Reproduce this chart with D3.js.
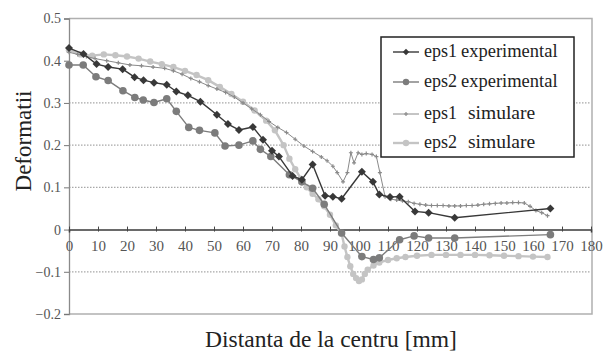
<!DOCTYPE html>
<html>
<head>
<meta charset="utf-8">
<script src="https://cdn.jsdelivr.net/npm/d3@7"></script>
<style>
  html, body { margin: 0; padding: 0; background: #fff; }
  svg { display: block; }
  svg text { font-family: "Liberation Serif", "Times New Roman", serif !important; }
</style>
</head>
<body>
<svg id="chart" width="606" height="353"></svg>
<script>
// Distance from the centre [mm] and measured / simulated strains
const eps1ExpX = [0, 5, 9.5, 13.5, 18.5, 22.6, 25.7, 29.3, 33.7, 37, 41, 45.3, 51, 54.8, 58.6, 63.4, 66.9, 70, 72.4, 77.1, 80.3, 84, 88.3, 91, 94, 101, 104.8, 107, 110.7, 114, 119.3, 124, 133, 166];
const eps1ExpY = [0.43, 0.416, 0.392, 0.385, 0.38, 0.361, 0.354, 0.348, 0.343, 0.327, 0.318, 0.303, 0.272, 0.25, 0.236, 0.243, 0.213, 0.187, 0.173, 0.127, 0.118, 0.154, 0.08, 0.078, 0.073, 0.137, 0.113, 0.083, 0.077, 0.078, 0.043, 0.04, 0.028, 0.05];

const eps2ExpX = [0, 4.9, 9.3, 13.5, 18.6, 22.7, 25.6, 29.3, 33.7, 37, 41.3, 45, 50.3, 53.8, 58.6, 63.4, 66, 69.6, 76, 80.3, 84, 88, 94, 101, 105, 107, 114, 119, 124, 133, 166];
const eps2ExpY = [0.39, 0.39, 0.362, 0.353, 0.329, 0.313, 0.307, 0.301, 0.31, 0.28, 0.242, 0.235, 0.229, 0.198, 0.2, 0.21, 0.19, 0.173, 0.13, 0.113, 0.098, 0.06, -0.008, -0.064, -0.071, -0.067, -0.024, -0.015, -0.02, -0.02, -0.012];

const eps1SimX = [0, 3, 6, 9, 13, 17, 21, 25, 29, 33, 36, 39, 42, 45, 48, 51, 54, 57, 60, 63, 66, 69, 72, 75, 78, 81, 84, 87, 89, 91, 92.5, 94.5, 96, 97.2, 98.3, 99.7, 101, 102.5, 104.5, 106, 107.2, 109, 111, 113, 115, 117, 119, 121, 123, 125, 127, 129, 131, 133, 135, 137, 139, 141, 143, 145, 147, 149, 151, 153, 155, 157, 159, 161, 163, 165];
const eps1SimY = [0.42, 0.415, 0.41, 0.405, 0.4, 0.395, 0.39, 0.388, 0.385, 0.382, 0.376, 0.368, 0.358, 0.35, 0.341, 0.333, 0.325, 0.314, 0.3, 0.286, 0.272, 0.256, 0.242, 0.23, 0.214, 0.198, 0.185, 0.172, 0.163, 0.15, 0.135, 0.113, 0.135, 0.182, 0.158, 0.182, 0.178, 0.18, 0.178, 0.173, 0.135, 0.078, 0.072, 0.07, 0.068, 0.066, 0.062, 0.06, 0.058, 0.057, 0.057, 0.057, 0.056, 0.056, 0.056, 0.057, 0.057, 0.058, 0.06, 0.061, 0.062, 0.063, 0.063, 0.064, 0.064, 0.063, 0.055, 0.045, 0.04, 0.033];

const eps2SimX = [0, 4, 8, 12, 16, 20, 24, 28, 32, 36, 40, 44, 48, 52, 56, 60, 64, 68, 71, 74, 76, 78, 80, 82, 84, 86, 88, 90, 92, 94, 95, 96, 97, 98, 99, 100, 101, 102, 103, 105, 107, 110, 113, 116, 120, 125, 130, 135, 140, 145, 150, 155, 160, 165];
const eps2SimY = [0.425, 0.415, 0.412, 0.415, 0.413, 0.41, 0.405, 0.398, 0.392, 0.385, 0.376, 0.366, 0.354, 0.338, 0.321, 0.303, 0.282, 0.258, 0.235, 0.2, 0.168, 0.143, 0.12, 0.1, 0.085, 0.072, 0.055, 0.035, 0.01, -0.01, -0.04, -0.065, -0.087, -0.105, -0.115, -0.122, -0.118, -0.105, -0.095, -0.085, -0.078, -0.072, -0.068, -0.065, -0.062, -0.06, -0.06, -0.06, -0.06, -0.061, -0.062, -0.063, -0.064, -0.065];

const xTicks = [0, 10, 20, 30, 40, 50, 60, 70, 80, 90, 100, 110, 120, 130, 140, 150, 160, 170, 180];
const yTicks = [-0.2, -0.1, 0, 0.1, 0.2, 0.3, 0.4, 0.5];
const gridValues = [-0.1, 0.1, 0.2, 0.3];

const legendLabels = [["eps1", "experimental"], ["eps2", "experimental"], ["eps1", "simulare"], ["eps2", "simulare"]];

const svg = d3.select("#chart");
const x = d3.scaleLinear().domain([0, 180]).range([69, 591]);
const y = d3.scaleLinear().domain([-0.2, 0.5]).range([314, 18.5]);

// dotted horizontal gridlines
svg.append("g").selectAll("line").data(gridValues).join("line")
  .attr("x1", x(0)).attr("x2", x(180))
  .attr("y1", d => y(d)).attr("y2", d => y(d))
  .attr("stroke", "#a8a8a8").attr("stroke-width", 1.2)
  .attr("stroke-dasharray", "1.5,1.5");

// plot frame (top, right, bottom)
svg.append("path")
  .attr("d", `M${x(0)},${y(0.5)}H${x(180) + 1}V${y(-0.2)}H${x(0)}`)
  .attr("fill", "none").attr("stroke", "#b0b0b0").attr("stroke-width", 1.5);

// y axis
const yAxis = d3.axisLeft(y).tickValues(yTicks).tickSize(5).tickPadding(3)
  .tickFormat(d => d === 0 ? "0" : d3.format(".1f")(d));
const gy = svg.append("g").attr("transform", `translate(${x(0)},0)`).call(yAxis)
  .attr("font-family", null);
gy.select(".domain").attr("stroke", "#8a8a8a").attr("stroke-width", 1.3);
gy.selectAll(".tick line").attr("stroke", "#777");
gy.selectAll("text").attr("font-size", 14).attr("fill", "#555");

// x axis drawn along y = 0
const xAxis = d3.axisBottom(x).tickValues(xTicks).tickSize(3).tickPadding(8);
const gx = svg.append("g").attr("transform", `translate(0,${y(0)})`).call(xAxis)
  .attr("font-family", null);
gx.select(".domain").attr("stroke", "#3a3a3a").attr("stroke-width", 1.5);
gx.selectAll(".tick line").attr("stroke", "#444").attr("y1", -3).attr("y2", 2);
gx.selectAll("text").attr("font-size", 15).attr("fill", "#555");

const line = d3.line().x(d => x(d[0])).y(d => y(d[1]));
const zip = (xs, ys) => xs.map((v, i) => [v, ys[i]]);

const series = [
  { data: zip(eps2SimX, eps2SimY), color: "#c4c4c4", width: 2.4, marker: "circle", r: 3.2 },
  { data: zip(eps1SimX, eps1SimY), color: "#8a8a8a", width: 1, marker: "plus", r: 2 },
  { data: zip(eps2ExpX, eps2ExpY), color: "#7c7c7c", width: 1.4, marker: "circle", r: 3.8 },
  { data: zip(eps1ExpX, eps1ExpY), color: "#383838", width: 1.4, marker: "diamond", r: 4 }
];

function drawMarker(g, kind, r, color) {
  if (kind === "circle") {
    g.append("circle").attr("r", r).attr("fill", color);
  } else if (kind === "diamond") {
    g.append("path").attr("d", `M0,${-r}L${r},0L0,${r}L${-r},0Z`).attr("fill", color);
  } else {
    g.append("path").attr("d", `M${-r},0H${r}M0,${-r}V${r}`)
      .attr("stroke", color).attr("stroke-width", 1.2);
  }
}

series.forEach(s => {
  svg.append("path").datum(s.data).attr("d", line)
    .attr("fill", "none").attr("stroke", s.color).attr("stroke-width", s.width)
    .attr("stroke-linejoin", "round");
  const mg = svg.append("g");
  s.data.forEach(d => {
    const g = mg.append("g").attr("transform", `translate(${x(d[0])},${y(d[1])})`);
    drawMarker(g, s.marker, s.r, s.color);
  });
});

// axis titles
svg.append("text").attr("transform", "translate(31,141) rotate(-90)")
  .attr("text-anchor", "middle").attr("font-size", 23).attr("fill", "#222")
  .text("Deformatii");
svg.append("text").attr("x", 331).attr("y", 347)
  .attr("text-anchor", "middle").attr("font-size", 23.5).attr("fill", "#222")
  .text("Distanta de la centru [mm]");

// legend
const legend = svg.append("g");
legend.append("rect").attr("x", 381).attr("y", 37).attr("width", 193).attr("height", 120)
  .attr("fill", "#fff").attr("stroke", "#222").attr("stroke-width", 1.5);
const legendOrder = [3, 2, 1, 0];
const rowY = [52, 82, 114, 143];
legendLabels.forEach((lab, i) => {
  const s = series[legendOrder[i]];
  const ry = rowY[i];
  legend.append("line").attr("x1", 393).attr("x2", 419).attr("y1", ry).attr("y2", ry)
    .attr("stroke", s.color).attr("stroke-width", s.width);
  const g = legend.append("g").attr("transform", `translate(406,${ry})`);
  drawMarker(g, s.marker, Math.min(s.r, 3.2), s.color);
  const t = legend.append("text").attr("y", ry + 5).attr("font-size", 18).attr("fill", "#222");
  t.append("tspan").attr("x", 424).text(lab[0]);
  t.append("tspan").attr("x", i < 2 ? 461 : 468)
    .attr("font-size", i < 2 ? 18.5 : 19.5).text(lab[1]);
});
</script>
</body>
</html>
